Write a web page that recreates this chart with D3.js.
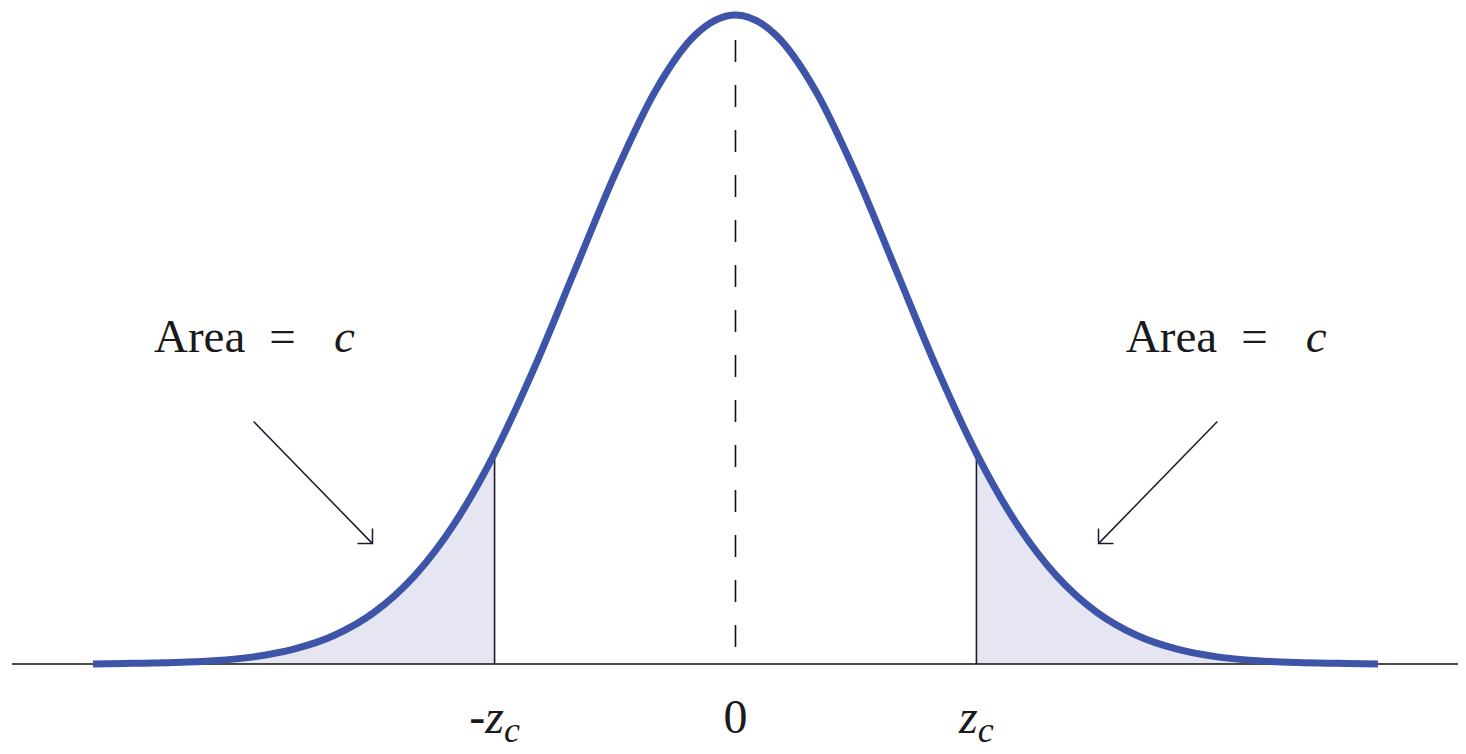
<!DOCTYPE html>
<html>
<head>
<meta charset="utf-8">
<script src="https://cdn.jsdelivr.net/npm/d3@7"></script>
<style>
  body { margin: 0; background: #fff; }
  text { font-family: "Liberation Serif", "DejaVu Serif", serif; fill: #1a1a1a; }
</style>
</head>
<body>
<div id="chart"></div>
<script>
// curve points (z, density)
var zValues = [-4, -3.75, -3.5, -3.25, -3, -2.75, -2.5, -2.25, -2, -1.75, -1.5, -1.25, -1, -0.75, -0.5, -0.25,
               0, 0.25, 0.5, 0.75, 1, 1.25, 1.5, 1.75, 2, 2.25, 2.5, 2.75, 3, 3.25, 3.5, 3.75, 4];
var densities = [0.000, 0.0004, 0.0009, 0.002, 0.0044, 0.0091, 0.0175, 0.0317, 0.054, 0.0863, 0.1295, 0.1826, 0.242, 0.3011, 0.3521, 0.3867,
                 0.3989, 0.3867, 0.3521, 0.3011, 0.242, 0.1826, 0.1295, 0.0863, 0.054, 0.0317, 0.0175, 0.0091, 0.0044, 0.002, 0.0009, 0.0004, 0.000];
var zCritical = 1.5;
var tickValues = [-zCritical, 0, zCritical];
var tickLabels = [["-z", "c"], ["0", ""], ["z", "c"]];

// set the dimensions
var width = 1466, height = 754;

var x = d3.scaleLinear().domain([-4, 4]).range([93, 1378]);
var y = d3.scaleLinear().domain([0, 0.3989]).range([664, 15]);

var data = zValues.map(function(z, i) { return {z: z, d: densities[i]}; });

var svg = d3.select("#chart").append("svg")
    .attr("width", width)
    .attr("height", height);

// shaded tails
var area = d3.area()
    .x(function(d) { return x(d.z); })
    .y0(y(0))
    .y1(function(d) { return y(d.d); })
    .curve(d3.curveMonotoneX);

var leftTail = data.filter(function(d) { return d.z <= -zCritical; });
var rightTail = data.filter(function(d) { return d.z >= zCritical; });

svg.append("path").datum(leftTail).attr("d", area).attr("fill", "#e6e6f3");
svg.append("path").datum(rightTail).attr("d", area).attr("fill", "#e6e6f3");

// baseline
svg.append("line")
    .attr("x1", 12).attr("x2", 1458)
    .attr("y1", y(0)).attr("y2", y(0))
    .attr("stroke", "#111").attr("stroke-width", 1.5);

// critical value lines
svg.selectAll(".crit")
    .data([-zCritical, zCritical])
  .enter().append("line")
    .attr("x1", function(d) { return x(d); })
    .attr("x2", function(d) { return x(d); })
    .attr("y1", y(0))
    .attr("y2", y(densities[zValues.indexOf(-zCritical)]))
    .attr("stroke", "#1a1a2a").attr("stroke-width", 1.6);

// dashed mean line
svg.append("line")
    .attr("x1", x(0)).attr("x2", x(0))
    .attr("y1", 40).attr("y2", y(0))
    .attr("stroke", "#111").attr("stroke-width", 1.6)
    .attr("stroke-dasharray", "22,23");

// the curve
var valueline = d3.line()
    .x(function(d) { return x(d.z); })
    .y(function(d) { return y(d.d); })
    .curve(d3.curveMonotoneX);

svg.append("path")
    .datum(data)
    .attr("d", valueline)
    .attr("fill", "none")
    .attr("stroke", "#3d54a8")
    .attr("stroke-width", 7);

// tick labels
var ticks = svg.selectAll(".tick")
    .data(tickValues)
  .enter().append("text")
    .attr("x", function(d) { return x(d); })
    .attr("y", 733)
    .attr("text-anchor", "middle")
    .style("font-size", "48px");

ticks.append("tspan")
    .style("font-style", function(d, i) { return i === 1 ? "normal" : "italic"; })
    .text(function(d, i) { return tickLabels[i][0]; });
ticks.append("tspan")
    .attr("dy", 9)
    .style("font-style", "italic")
    .style("font-size", "36px")
    .text(function(d, i) { return tickLabels[i][1]; });

// annotations: "Area = c" with arrows
var notes = [
  {label: -3.62, ly: 0.192, from: [-3.00, 0.149], to: [-2.26, 0.074], dir: -1},
  {label: 2.43, ly: 0.192, from: [3.00, 0.149], to: [2.26, 0.074], dir: 1}
];

notes.forEach(function(n) {
  var t = svg.append("text")
      .attr("x", x(n.label))
      .attr("y", y(n.ly))
      .style("font-size", "47px");
  t.append("tspan").text("Area");
  t.append("tspan").attr("dx", 24).text("=");
  t.append("tspan").attr("dx", 38).style("font-style", "italic").text("c");

  var x1 = x(n.from[0]), y1 = y(n.from[1]), x2 = x(n.to[0]), y2 = y(n.to[1]);
  svg.append("line")
      .attr("x1", x1).attr("y1", y1).attr("x2", x2).attr("y2", y2)
      .attr("stroke", "#1a1a2e").attr("stroke-width", 1.5);
  // open arrow head (horizontal + vertical legs)
  svg.append("path")
      .attr("d", "M" + (x2 + n.dir * 15) + "," + y2 + "L" + x2 + "," + y2 + "L" + x2 + "," + (y2 - 15))
      .attr("fill", "none")
      .attr("stroke", "#1a1a2e").attr("stroke-width", 1.5);
});
</script>
</body>
</html>
